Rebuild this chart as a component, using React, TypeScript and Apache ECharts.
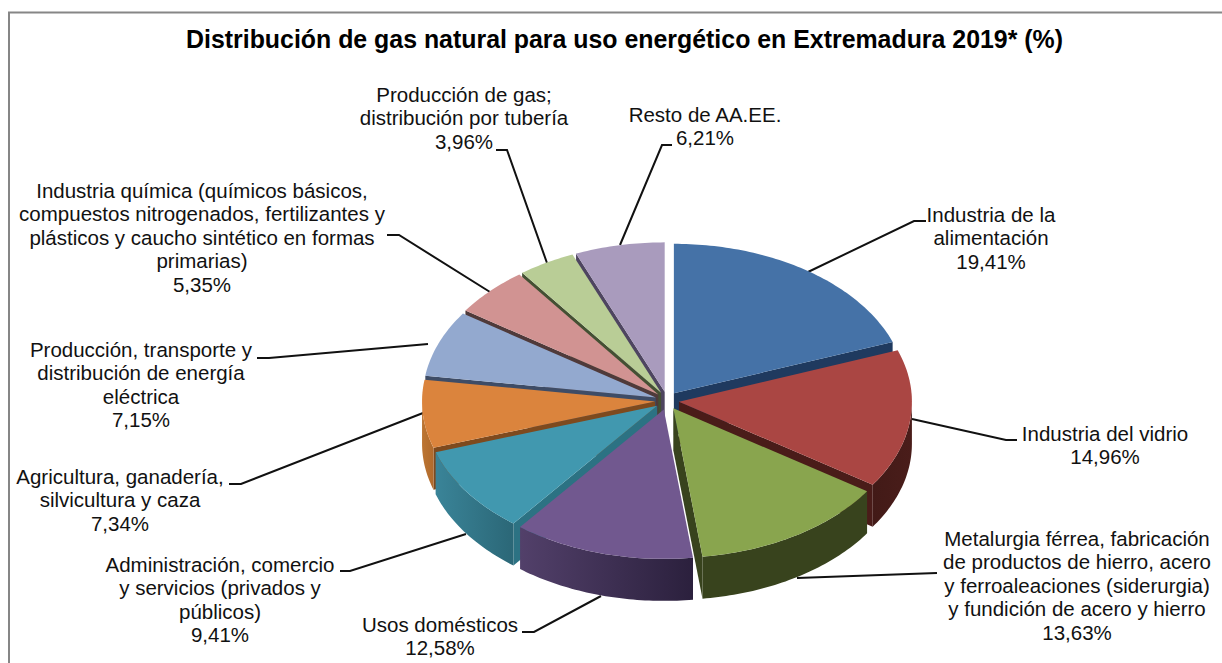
import React, { useEffect, useRef } from "react";
import * as echarts from "echarts";

const titleText = "Distribución de gas natural para uso energético en Extremadura 2019* (%)";

const categoryLines: string[][] = [
  ["Industria de la", "alimentación"],
  ["Industria del vidrio"],
  ["Metalurgia férrea, fabricación", "de productos de hierro, acero", "y ferroaleaciones (siderurgia)", "y fundición de acero y hierro"],
  ["Usos domésticos"],
  ["Administración, comercio", "y servicios (privados y", "públicos)"],
  ["Agricultura, ganadería,", "silvicultura y caza"],
  ["Producción, transporte y", "distribución de energía", "eléctrica"],
  ["Industria química (químicos básicos,", "compuestos nitrogenados, fertilizantes y", "plásticos y caucho sintético en formas", "primarias)"],
  ["Producción de gas;", "distribución por tubería"],
  ["Resto de AA.EE."],
];
const values = [19.41, 14.96, 13.63, 12.58, 9.41, 7.34, 7.15, 5.35, 3.96, 6.21];

const topColors = ["#4572A7", "#AA4643", "#89A54E", "#71588F", "#4198AF", "#DB843D", "#93A9CF", "#D19392", "#B9CD96", "#A99BBD"];
const edgeColors = ["#1F3A5F", "#4A1C19", "#38431D", "#4D3B61", "#2C7283", "#7E4A1E", "#3E4C66", "#4F3A3A", "#445033", "#4E4560"];
const wallLeft = ["#2A4A72", "#4A1D1A", "#38431D", "#52406A", "#3A8498", "#BC7533", "#6A7C9C", "#9A6B6A", "#8A9A6E", "#7C7090"];
const wallRight = ["#2A4A72", "#421A17", "#38431D", "#2B203D", "#2B6777", "#B06A2C", "#6A7C9C", "#9A6B6A", "#8A9A6E", "#7C7090"];

// label layout: [centre x, centre y of first line]
const labelCenters = [
  [991, 214.5], [1105, 433.5], [1077, 538.5], [440, 624.5], [220, 564.5],
  [120, 476.5], [141, 349.5], [202, 190.5], [464, 94.5], [705, 114.5],
];
// leader lines, label end first
const leaders = [
  [[926, 221], [914, 221], [808, 272]],
  [[1017, 440], [1006, 440], [912, 419]],
  [[937, 573], [797, 578]],
  [[522, 632], [534, 632], [601, 596]],
  [[340, 571], [350, 571], [466, 534]],
  [[229, 484], [241, 484], [423, 413]],
  [[257, 358], [269, 358], [428, 344]],
  [[387, 235], [399, 235], [490, 292]],
  [[496, 150], [507, 150], [547, 263]],
  [[672, 145], [662, 145], [620, 245]],
];

const CX = 667, CY = 400.7, RX = 233, RY = 149.5, DEPTH = 42, EX = 12, EY = 9;
const FONT = '"Liberation Sans", Arial, sans-serif';
const RAD = Math.PI / 180;

const total = values.reduce((a, b) => a + b, 0);
const starts: number[] = [];
values.reduce((acc, v, i) => { starts[i] = (acc / total) * 360; return acc + v; }, 0);
const midAngle = (i: number) => starts[i] + ((values[i] / total) * 360) / 2;
const paintOrder = values.map((_, i) => i).sort((a, b) => Math.cos(midAngle(b) * RAD) - Math.cos(midAngle(a) * RAD));

function renderSlice(_: any, api: any) {
  const i = api.value(1) as number;
  const sweep = (api.value(0) / total) * 360;
  const a0 = starts[i];
  const a1 = a0 + sweep;
  const m = (a0 + a1) / 2;
  const ax = CX + EX * Math.sin(m * RAD);
  const ay = CY - EY * Math.cos(m * RAD);
  const pt = (deg: number, dz = 0) => [ax + RX * Math.sin(deg * RAD), ay - RY * Math.cos(deg * RAD) + dz];
  const arc = (from: number, to: number, dz = 0) => {
    const out: number[][] = [];
    const n = Math.max(2, Math.ceil(to - from));
    for (let k = 0; k <= n; k++) out.push(pt(from + ((to - from) * k) / n, dz));
    return out;
  };
  const children: any[] = [];
  const wall = (deg: number) => ({
    type: "polygon",
    shape: { points: [[ax, ay], pt(deg), pt(deg, DEPTH), [ax, ay + DEPTH]] },
    style: { fill: edgeColors[i] },
  });
  if (Math.sin(a1 * RAD) > 0) children.push(wall(a1));
  if (-Math.sin(a0 * RAD) > 0) children.push(wall(a0));
  const w0 = Math.max(a0, 90), w1 = Math.min(a1, 270);
  if (w1 > w0) {
    children.push({
      type: "polygon",
      shape: { points: [...arc(w0, w1), ...arc(w0, w1, DEPTH).reverse()] },
      style: {
        fill: new echarts.graphic.LinearGradient(0, 0, 1, 0, [
          { offset: 0, color: w0 >= 180 || i === 3 ? wallLeft[i] : wallRight[i] },
          { offset: 1, color: w0 >= 180 || i === 3 ? wallRight[i] : wallLeft[i] },
        ]),
      },
    });
  }
  children.push({
    type: "polygon",
    shape: { points: [[ax, ay], ...arc(a0, a1)] },
    style: { fill: topColors[i] },
  });
  return { type: "group", children };
}

export default function App() {
  const ref = useRef<HTMLDivElement>(null);
  useEffect(() => {
    const chart = echarts.init(ref.current!, null, { renderer: "svg" });
    const labels = categoryLines.map((lines, i) => ({
      type: "text",
      x: labelCenters[i][0],
      y: labelCenters[i][1] - 11.7,
      z: 5,
      style: {
        text: [...lines, values[i].toFixed(2).replace(".", ",") + "%"].join("\n"),
        font: `20.5px ${FONT}`,
        lineHeight: 23.4,
        fill: "#111",
        align: "center",
        verticalAlign: "top",
      },
    }));
    const lines = leaders.map((points) => ({
      type: "polyline",
      z: 1,
      shape: { points },
      style: { stroke: "#111", lineWidth: 2, fill: "none" },
    }));
    chart.setOption({
      animation: false,
      backgroundColor: "#fff",
      title: {
        text: titleText,
        left: 619.5,
        top: 21,
        textAlign: "center",
        textStyle: { fontFamily: FONT, fontSize: 24.9, fontWeight: "bold", color: "#000" },
      },
      graphic: [
        {
          type: "rect",
          z: 0,
          shape: { x: 9, y: 12.5, width: 1400, height: 900 },
          style: { fill: "#fff", stroke: "#868686", lineWidth: 2 },
        },
        ...lines,
        ...labels,
      ],
      series: [
        {
          type: "custom",
          coordinateSystem: "none",
          z: 3,
          clip: false,
          silent: true,
          renderItem: renderSlice,
          data: paintOrder.map((i) => ({ value: [values[i], i] })),
        },
      ],
    });
    return () => chart.dispose();
  }, []);
  return <div ref={ref} style={{ position: "fixed", left: 0, top: 0, width: 1222, height: 663 }} />;
}
